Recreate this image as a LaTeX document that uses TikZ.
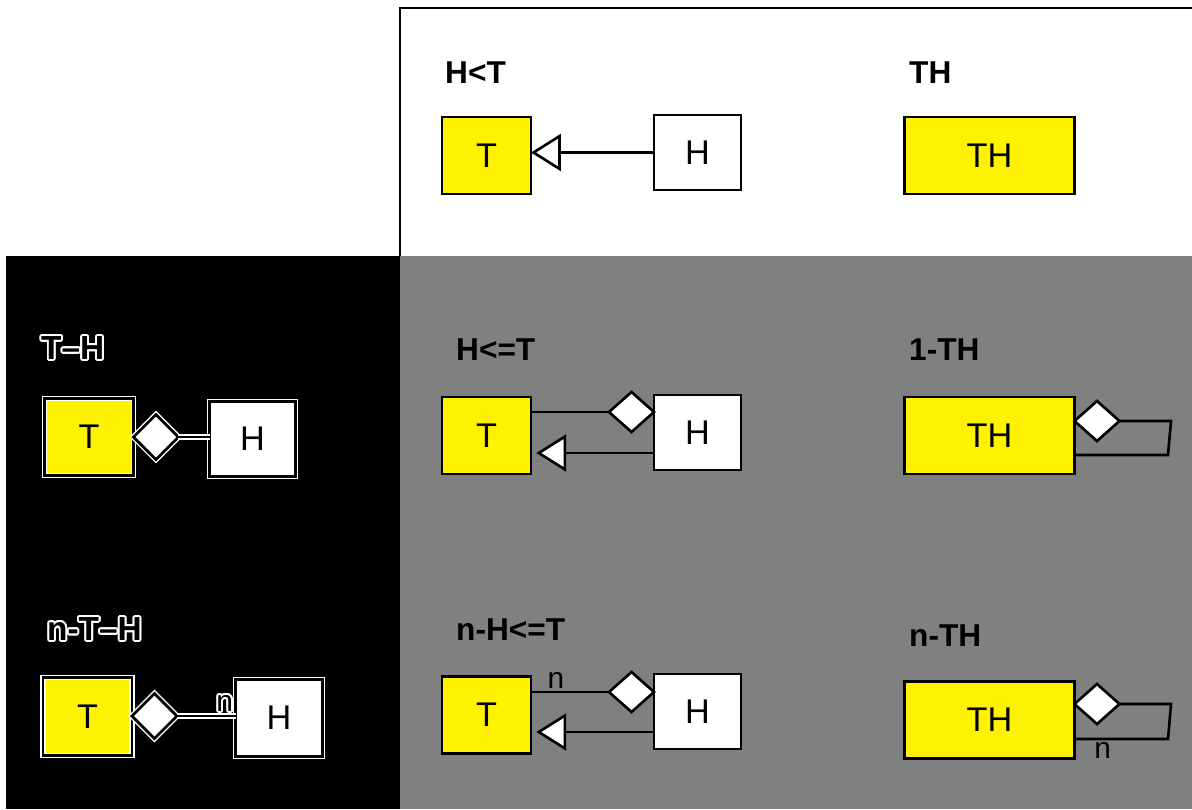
\documentclass[tikz,border=0pt]{standalone}
\usepackage{fontspec}
\setmainfont{Liberation Sans}
\usepackage{contour}
\contourlength{1.1pt}
\usetikzlibrary{shapes.geometric,arrows.meta}

\tikzset{
  tbox/.style={draw, fill=yellow, line width=1.5pt, inner sep=0pt, outer sep=0pt, minimum width=1.78cm, minimum height=1.54cm, font=\fontsize{19.5}{22}\selectfont},
  hbox/.style={tbox, fill=white, minimum width=1.74cm, minimum height=1.5cm},
  thbox/.style={tbox, minimum width=3.4cm},
  dia/.style={diamond, draw, fill=white, line width=1.5pt, inner sep=0pt, outer sep=0pt, minimum width=0.9cm, minimum height=0.8cm},
  dark/.style={draw=white, double=black, line width=0.8pt, double distance=1.6pt},
  head/.style={font=\fontsize{18}{20}\selectfont\bfseries, anchor=west},
  card/.style={font=\fontsize{17}{20}\selectfont, inner sep=1pt},
  link/.style={line width=1.5pt},
  inh/.style={line width=1.5pt, -{Triangle[fill=white, length=17pt, width=21pt, line join=miter]}},
}

\begin{document}
\begin{tikzpicture}[x=0.02cm, y=-0.02cm]
\useasboundingbox (0,0) rectangle (1192,809);

\fill[black] (6,256) rectangle (400,809);					% linke Spalte
\fill[gray] (400,256) rectangle (1192,809);					% grauer Bereich
\draw[line width=1.5pt] (1192,8) -- (400,8) -- (400,256);		% oberer Rahmen

% obere Zeile
\node[head] at (439,73) {H<T};
\node[tbox] (t1) at (486.5,155.5) {T};
\node[hbox] (h1) at (697.5,152.5) {H};
\draw[inh] (h1.west) -- (h1.west -| t1.east);
\node[head] at (903,73) {TH};
\node[thbox] (th1) at (989.5,155.5) {TH};

% zweite Zeile
\node[head] at (450,350) {H<=T};
\node[tbox] (t2) at (486.5,435.5) {T};
\node[hbox] (h2) at (697.5,432.5) {H};
\node[dia, anchor=east] (d2) at (h2.west |- 0,412) {};
\draw[link] (d2.west) -- (d2.west -| t2.east);
\coordinate (a2) at (0,453);
\draw[inh, shorten >=3pt] (h2.west |- a2) -- (t2.east |- a2);

\node[head] at (903,350) {1-TH};
\node[thbox] (th2) at (989.5,435.5) {TH};
\node[dia, anchor=west] (e2) at (th2.east |- 0,421) {};
\coordinate (r2) at (1171,421);
\coordinate (s2) at (1168,455);
\draw[link] (e2.east) -- (r2) -- (s2) -- (s2 -| th2.east);

% dritte Zeile
\node[head] at (450,630) {n-H<=T};
\node[tbox] (t3) at (486.5,715) {T};
\node[hbox] (h3) at (697.5,711.5) {H};
\node[dia, anchor=east] (d3) at (h3.west |- 0,692) {};
\draw[link] (d3.west) -- (d3.west -| t3.east) node[card, above, pos=0.68] {n};
\coordinate (a3) at (0,732);
\draw[inh, shorten >=3pt] (h3.west |- a3) -- (t3.east |- a3);

\node[head] at (903,636) {n-TH};
\node[thbox] (th3) at (989.5,720) {TH};
\node[dia, anchor=west] (e3) at (th3.east |- 0,704) {};
\coordinate (r3) at (1171,704);
\coordinate (s3) at (1168,739);
\draw[link] (e3.east) -- (r3) -- (s3) -- (s3 -| th3.east) node[card, below right, pos=0.82] {n};

% linke Spalte
\node[head, font=\fontsize{19}{20}\selectfont\bfseries] at (35,349) {\contour{white}{T--H}};
\node[tbox, dark] (t4) at (89,437) {T};
\node[hbox, dark, minimum width=1.72cm] (h4) at (252.5,439) {H};
\node[dia, dark, minimum height=0.9cm, anchor=west] (d4) at (t4.east |- 0,437) {};
\draw[dark] (d4.east) -- (d4.east -| h4.west);

\node[head, font=\fontsize{19}{20}\selectfont\bfseries] at (41,630) {\contour{white}{n-T--H}};
\node[tbox, dark, minimum height=1.56cm] (t5) at (87.5,716.5) {T};
\node[hbox, dark, minimum height=1.54cm] (h5) at (279,718) {H};
\node[dia, dark, minimum height=0.9cm, anchor=west] (d5) at (t5.east |- 0,716) {};
\draw[dark] (d5.east) -- (d5.east -| h5.west) node[card, above left, pos=1] {\contour{white}{n}};

\end{tikzpicture}
\end{document}
